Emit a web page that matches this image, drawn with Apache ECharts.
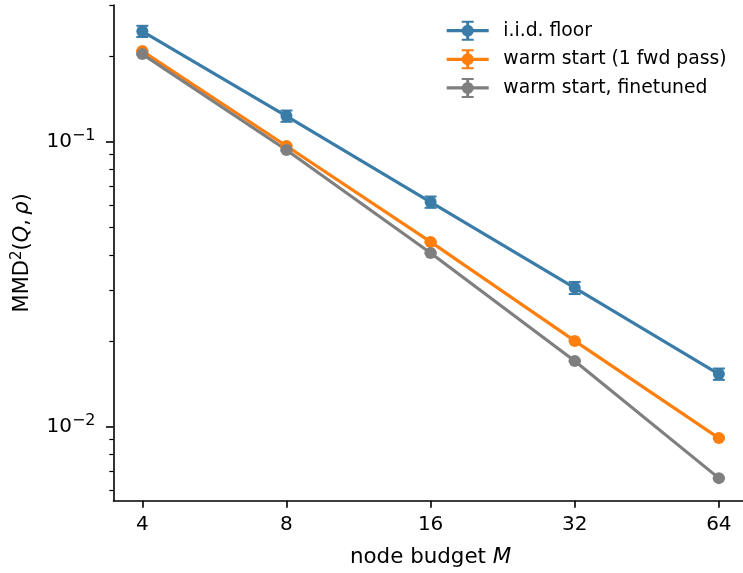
<!DOCTYPE html>
<html>
<head>
<meta charset="utf-8">
<script src="https://cdn.jsdelivr.net/npm/echarts@6/dist/echarts.min.js"></script>
<style>
  html, body { margin: 0; padding: 0; background: #fff; }
  #chart { width: 743px; height: 573px; }
</style>
</head>
<body>
<div id="chart"></div>
<script>
// Node budgets (x) and MMD^2 estimates with standard errors per method
const budgets = [4, 8, 16, 32, 64];
const iidFloor = [0.244, 0.123, 0.0614, 0.0307, 0.0153];
const iidFloorErr = [0.011, 0.0056, 0.0028, 0.0015, 0.0007];
const warmStart = [0.208, 0.0966, 0.0445, 0.0200, 0.00912];
const warmStartErr = [0.001, 0.0005, 0.0002, 0.0001, 0.00004];
const finetuned = [0.203, 0.0935, 0.0407, 0.0170, 0.0066];
const finetunedErr = [0.001, 0.0005, 0.0002, 0.0001, 0.00003];

const xTicks = [4, 8, 16, 32, 64];
const yMajorTicks = [0.01, 0.1];
const yMinorTicks = [0.006, 0.007, 0.008, 0.009, 0.02, 0.03, 0.04, 0.05, 0.06, 0.07, 0.08, 0.09, 0.2, 0.3];

const names = ['i.i.d. floor', 'warm start (1 fwd pass)', 'warm start, finetuned'];
const colors = ['#3a7ca8', '#ff7f0e', '#7f7f7f'];

const FONT = 'DejaVu Sans';
const LW = 3.2;

// Legend handle: line + marker + vertical error bar with caps
const errIcon = 'path://M0 8.4 H42 V11.6 H0 Z M19.5 0 H22.5 V20 H19.5 Z M15 0 H27 V2 H15 Z M15 18 H27 V20 H15 Z M27 10 A6 6 0 1 1 15 10 A6 6 0 1 1 27 10 Z';

function errorBars(values, errs, color) {
  return {
    type: 'custom',
    silent: true,
    animation: false,
    data: budgets.map((m, i) => [m, values[i] - errs[i], values[i] + errs[i]]),
    encode: { x: 0, y: [1, 2] },
    renderItem: function (params, api) {
      const x = api.value(0);
      const lo = api.coord([x, api.value(1)]);
      const hi = api.coord([x, api.value(2)]);
      const cap = 6;
      return {
        type: 'group',
        children: [
          { type: 'line', shape: { x1: lo[0], y1: lo[1], x2: hi[0], y2: hi[1] }, style: { stroke: color, lineWidth: LW } },
          { type: 'line', shape: { x1: lo[0] - cap, y1: lo[1], x2: lo[0] + cap, y2: lo[1] }, style: { stroke: color, lineWidth: 2 } },
          { type: 'line', shape: { x1: hi[0] - cap, y1: hi[1], x2: hi[0] + cap, y2: hi[1] }, style: { stroke: color, lineWidth: 2 } }
        ]
      };
    }
  };
}

function lineSeries(name, values, color) {
  return {
    type: 'line',
    name: name,
    data: budgets.map((m, i) => [m, values[i]]),
    symbol: 'circle',
    symbolSize: 12,
    showSymbol: true,
    lineStyle: { color: color, width: LW },
    itemStyle: { color: color },
    animation: false,
    silent: true
  };
}

const supLabel = function (v) {
  const e = Math.round(Math.log10(v));
  return '{b|10}{s|\u2212' + Math.abs(e) + '}';
};

const axisLineStyle = { color: '#000', width: 1.6 };

const option = {
  backgroundColor: '#fff',
  animation: false,
  grid: { left: 113.5, top: 5, width: 634.2, height: 495.7, containLabel: false, outerBoundsMode: 'none' },
  legend: {
    orient: 'vertical',
    left: 446.7,
    top: 20.7,
    padding: 0,
    itemWidth: 42,
    itemHeight: 20,
    itemGap: 8.6,
    icon: errIcon,
    data: names,
    selectedMode: false,
    textStyle: { fontFamily: FONT, fontSize: 18.8, color: '#000', padding: [0, 0, 0, 9.6] }
  },
  xAxis: {
    type: 'log',
    logBase: 2,
    min: 3.482,
    max: 73.52,
    name: '{n|node budget }{i|M}',
    nameLocation: 'middle',
    nameGap: 46,
    nameTextStyle: {
      rich: {
        n: { fontFamily: FONT, fontSize: 21.4, color: '#000' },
        i: { fontFamily: FONT, fontSize: 21.4, fontStyle: 'italic', color: '#000' }
      }
    },
    axisLine: { show: true, lineStyle: axisLineStyle },
    axisTick: { show: true, length: 7, lineStyle: axisLineStyle, customValues: xTicks },
    axisLabel: {
      customValues: xTicks,
      margin: 14,
      fontFamily: FONT,
      fontSize: 20,
      color: '#000',
      formatter: function (v) { return String(Math.round(v)); }
    },
    splitLine: { show: false },
    minorTick: { show: false }
  },
  yAxis: [
    {
      type: 'log',
      logBase: 10,
      min: 0.0055,
      max: 0.3017,
      position: 'left',
      name: '{n|MMD}{s|2}{n|(}{i|Q}{n|,\u2009}{i|\u03c1}{n|)}',
      nameLocation: 'middle',
      nameGap: 78,
      nameRotate: 90,
      nameTextStyle: {
        rich: {
          n: { fontFamily: FONT, fontSize: 21, color: '#000' },
          i: { fontFamily: FONT, fontSize: 21, fontStyle: 'italic', color: '#000' },
          s: { fontFamily: FONT, fontSize: 15, color: '#000', padding: [0, 0, 11, 0] }
        }
      },
      axisLine: { show: true, lineStyle: axisLineStyle },
      axisTick: { show: true, length: 7.5, lineStyle: axisLineStyle, customValues: yMajorTicks },
      axisLabel: {
        customValues: yMajorTicks,
        margin: 18,
        formatter: supLabel,
        rich: {
          b: { fontFamily: FONT, fontSize: 20, color: '#000' },
          s: { fontFamily: FONT, fontSize: 16, color: '#000', padding: [0, 0, 11, 0] }
        }
      },
      splitLine: { show: false }
    },
    {
      type: 'log',
      logBase: 10,
      min: 0.0055,
      max: 0.3017,
      position: 'left',
      offset: 0,
      axisLine: { show: false },
      axisTick: { show: true, length: 4.2, lineStyle: { color: '#000', width: 1.2 }, customValues: yMinorTicks },
      axisLabel: { show: false },
      splitLine: { show: false }
    }
  ],
  series: [
    errorBars(iidFloor, iidFloorErr, colors[0]),
    lineSeries(names[0], iidFloor, colors[0]),
    errorBars(warmStart, warmStartErr, colors[1]),
    lineSeries(names[1], warmStart, colors[1]),
    errorBars(finetuned, finetunedErr, colors[2]),
    lineSeries(names[2], finetuned, colors[2])
  ]
};

const chart = echarts.init(document.getElementById('chart'), null, { renderer: 'canvas' });
chart.setOption(option);
</script>
</body>
</html>
